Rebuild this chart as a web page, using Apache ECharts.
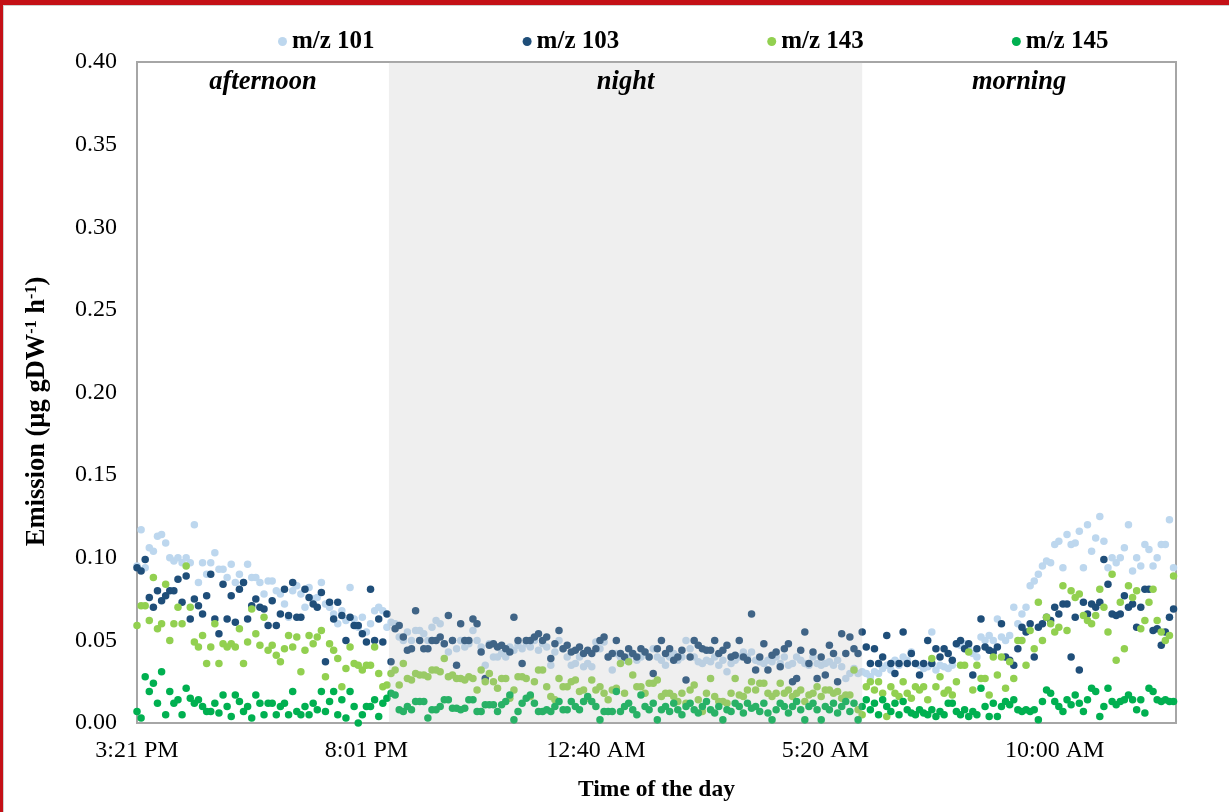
<!DOCTYPE html>
<html>
<head>
<meta charset="utf-8">
<script src="https://cdn.jsdelivr.net/npm/echarts@6/dist/echarts.min.js"></script>
<style>
  html, body { margin: 0; padding: 0; background: #fff; }
  #wrap { position: relative; width: 1229px; height: 812px; overflow: hidden; }
  #chart { position: absolute; left: 0; top: 0; width: 1229px; height: 812px; }
  #frameTop { position: absolute; left: 0; top: 0; width: 1229px; height: 5px; background: #c41016; }
  #frameTopIn { position: absolute; left: 3px; top: 5px; width: 1226px; height: 1px; background: #d0d0d0; }
  #frameLeft { position: absolute; left: 0; top: 0; width: 3px; height: 812px; background: #c41016; }
  #frameLeftIn { position: absolute; left: 3px; top: 5px; width: 1px; height: 807px; background: #d0d0d0; }
</style>
</head>
<body>
<div id="wrap">
  <div id="chart"></div>
  <div id="frameTop"></div><div id="frameTopIn"></div>
  <div id="frameLeft"></div><div id="frameLeftIn"></div>
</div>
<script>
// ---- data ----
const seriesNames = ['m/z 101', 'm/z 103', 'm/z 143', 'm/z 145'];
const tickLabels = ['3:21 PM', '8:01 PM', '12:40 AM', '5:20 AM', '10:00 AM'];
const tickStepMin = 280;          // minutes between labelled ticks
const sampleStepMin = 5;          // minutes between successive measurements
const axisEndMin = 1268;          // end of the time axis (minutes after 3:21 PM)
const periodNames = ['afternoon', 'night', 'morning'];
const periodBounds = [0, 307.5, 885, 1268];   // minutes after 3:21 PM

const mz101 = [
  0.095,0.117,0.094,0.106,0.104,0.113,0.114,0.109,0.100,0.098,
  0.100,0.097,0.100,0.097,0.120,0.085,0.097,0.090,0.097,0.103,
  0.093,0.093,0.088,0.096,0.085,0.090,0.085,0.096,0.088,0.088,
  0.085,0.078,0.086,0.086,0.080,0.078,0.072,0.064,0.080,0.083,
  0.078,0.070,0.082,0.075,0.076,0.085,0.072,0.070,0.066,0.060,
  0.068,0.062,0.082,0.063,0.058,0.064,0.055,0.060,0.068,0.070,
  0.068,0.058,0.061,0.060,0.052,0.050,0.055,0.050,0.056,0.056,
  0.054,0.050,0.058,0.062,0.060,0.048,0.043,0.050,0.045,0.050,
  0.046,0.048,0.056,0.050,0.046,0.035,0.048,0.040,0.040,0.042,
  0.040,0.046,0.044,0.047,0.045,0.048,0.046,0.050,0.044,0.048,
  0.046,0.035,0.043,0.050,0.045,0.040,0.035,0.036,0.040,0.034,
  0.036,0.034,0.049,0.045,0.049,0.040,0.032,0.042,0.040,0.038,
  0.040,0.042,0.038,0.040,0.043,0.040,0.045,0.040,0.038,0.035,
  0.040,0.042,0.038,0.040,0.050,0.045,0.040,0.037,0.036,0.038,
  0.037,0.040,0.035,0.038,0.031,0.036,0.038,0.040,0.043,0.040,
  0.043,0.038,0.037,0.036,0.038,0.037,0.040,0.036,0.040,0.035,
  0.036,0.040,0.038,0.036,0.035,0.040,0.036,0.035,0.036,0.037,
  0.035,0.038,0.034,0.027,0.030,0.033,0.030,0.031,0.030,0.028,
  0.031,0.030,0.033,0.035,0.032,0.038,0.035,0.040,0.038,0.043,
  0.036,0.035,0.033,0.034,0.055,0.032,0.035,0.034,0.033,0.035,
  0.048,0.047,0.048,0.045,0.042,0.040,0.052,0.050,0.053,0.050,
  0.063,0.052,0.050,0.053,0.070,0.060,0.066,0.070,0.083,0.086,
  0.090,0.095,0.098,0.097,0.108,0.110,0.094,0.114,0.108,0.109,
  0.116,0.094,0.120,0.104,0.112,0.125,0.110,0.094,0.100,0.097,
  0.100,0.106,0.120,0.092,0.100,0.095,0.108,0.105,0.095,0.100,
  0.108,0.108,0.123,0.094
];
const mz103 = [
  0.094,0.092,0.099,0.076,0.070,0.080,0.074,0.077,0.080,0.080,
  0.087,0.073,0.089,0.063,0.075,0.071,0.066,0.077,0.090,0.063,
  0.054,0.084,0.063,0.077,0.061,0.081,0.085,0.063,0.071,0.075,
  0.070,0.069,0.059,0.074,0.059,0.066,0.081,0.065,0.085,0.064,
  0.064,0.081,0.076,0.072,0.070,0.079,0.037,0.073,0.063,0.073,
  0.065,0.050,0.064,0.059,0.059,0.054,0.049,0.081,0.050,0.063,
  0.049,0.066,0.037,0.057,0.059,0.052,0.044,0.045,0.068,0.050,
  0.045,0.045,0.050,0.050,0.052,0.048,0.065,0.050,0.035,0.060,
  0.050,0.050,0.063,0.060,0.043,0.027,0.047,0.048,0.046,0.047,
  0.045,0.043,0.064,0.050,0.036,0.050,0.050,0.052,0.054,0.050,
  0.052,0.039,0.048,0.056,0.045,0.047,0.043,0.044,0.046,0.042,
  0.044,0.042,0.045,0.050,0.052,0.040,0.042,0.050,0.042,0.040,
  0.045,0.042,0.040,0.045,0.043,0.040,0.030,0.045,0.050,0.042,
  0.045,0.038,0.040,0.044,0.026,0.040,0.050,0.047,0.045,0.044,
  0.044,0.050,0.042,0.044,0.047,0.040,0.041,0.050,0.040,0.038,
  0.066,0.032,0.040,0.048,0.032,0.041,0.043,0.034,0.045,0.048,
  0.025,0.027,0.044,0.055,0.036,0.043,0.027,0.040,0.029,0.047,
  0.042,0.025,0.054,0.042,0.052,0.045,0.042,0.055,0.046,0.036,
  0.045,0.036,0.040,0.053,0.036,0.030,0.036,0.055,0.036,0.042,
  0.036,0.029,0.036,0.050,0.036,0.045,0.040,0.045,0.042,0.038,
  0.048,0.050,0.045,0.048,0.029,0.045,0.063,0.046,0.044,0.043,
  0.046,0.060,0.040,0.038,0.035,0.045,0.058,0.055,0.060,0.040,
  0.058,0.060,0.064,0.062,0.070,0.066,0.072,0.072,0.040,0.064,
  0.032,0.073,0.066,0.072,0.070,0.073,0.099,0.084,0.066,0.065,
  0.066,0.077,0.070,0.072,0.058,0.070,0.081,0.081,0.056,0.057,
  0.047,0.055,0.064,0.069
];
const mz143 = [
  0.059,0.071,0.071,0.062,0.088,0.057,0.060,0.084,0.050,0.060,
  0.070,0.060,0.095,0.070,0.049,0.046,0.053,0.036,0.046,0.060,
  0.036,0.048,0.046,0.048,0.046,0.057,0.036,0.049,0.069,0.054,
  0.047,0.064,0.044,0.047,0.041,0.037,0.045,0.053,0.046,0.052,
  0.031,0.044,0.053,0.048,0.052,0.056,0.028,0.048,0.044,0.039,
  0.022,0.033,0.046,0.036,0.035,0.032,0.035,0.035,0.046,0.030,
  0.022,0.023,0.030,0.032,0.023,0.036,0.027,0.026,0.030,0.029,
  0.029,0.028,0.032,0.032,0.031,0.039,0.028,0.029,0.027,0.027,
  0.026,0.028,0.027,0.020,0.032,0.025,0.030,0.025,0.021,0.027,
  0.027,0.015,0.020,0.028,0.028,0.027,0.016,0.025,0.032,0.032,
  0.022,0.016,0.014,0.027,0.022,0.022,0.025,0.026,0.019,0.020,
  0.015,0.026,0.020,0.022,0.018,0.014,0.020,0.021,0.036,0.018,
  0.037,0.029,0.022,0.022,0.018,0.024,0.024,0.026,0.016,0.018,
  0.018,0.016,0.013,0.018,0.012,0.020,0.023,0.014,0.007,0.018,
  0.027,0.016,0.013,0.013,0.012,0.018,0.027,0.017,0.016,0.020,
  0.025,0.020,0.024,0.024,0.018,0.016,0.018,0.024,0.018,0.020,
  0.016,0.018,0.020,0.013,0.017,0.018,0.022,0.016,0.020,0.020,
  0.018,0.019,0.015,0.017,0.017,0.032,0.008,0.005,0.022,0.025,
  0.020,0.025,0.018,0.004,0.022,0.018,0.016,0.025,0.018,0.015,
  0.022,0.020,0.022,0.014,0.039,0.022,0.028,0.018,0.020,0.017,
  0.025,0.035,0.035,0.043,0.020,0.035,0.027,0.027,0.017,0.040,
  0.029,0.040,0.021,0.037,0.027,0.050,0.050,0.035,0.056,0.045,
  0.073,0.050,0.064,0.060,0.055,0.058,0.083,0.056,0.080,0.076,
  0.078,0.065,0.062,0.060,0.065,0.081,0.070,0.055,0.090,0.038,
  0.073,0.045,0.083,0.076,0.080,0.057,0.062,0.073,0.081,0.062,
  0.055,0.050,0.053,0.089
];
const mz145 = [
  0.007,0.003,0.028,0.019,0.024,0.012,0.031,0.005,0.019,0.012,
  0.014,0.005,0.021,0.015,0.012,0.014,0.010,0.007,0.007,0.012,
  0.006,0.017,0.010,0.004,0.017,0.013,0.007,0.010,0.003,0.017,
  0.012,0.005,0.012,0.012,0.005,0.010,0.012,0.005,0.019,0.007,
  0.005,0.010,0.005,0.012,0.008,0.019,0.007,0.013,0.019,0.005,
  0.014,0.003,0.019,0.010,0.000,0.005,0.010,0.010,0.014,0.004,
  0.012,0.015,0.018,0.017,0.008,0.007,0.010,0.008,0.013,0.013,
  0.013,0.003,0.008,0.008,0.010,0.014,0.014,0.009,0.009,0.008,
  0.009,0.014,0.014,0.007,0.007,0.011,0.011,0.011,0.007,0.011,
  0.013,0.017,0.002,0.007,0.012,0.015,0.017,0.012,0.007,0.007,
  0.008,0.007,0.010,0.013,0.008,0.008,0.013,0.010,0.008,0.013,
  0.016,0.013,0.010,0.002,0.007,0.007,0.007,0.019,0.007,0.010,
  0.012,0.008,0.005,0.017,0.010,0.008,0.012,0.002,0.008,0.010,
  0.007,0.012,0.008,0.005,0.010,0.012,0.008,0.006,0.010,0.013,
  0.008,0.006,0.010,0.002,0.008,0.007,0.012,0.010,0.006,0.012,
  0.009,0.010,0.007,0.012,0.006,0.002,0.008,0.012,0.010,0.006,
  0.010,0.013,0.008,0.002,0.010,0.012,0.008,0.002,0.010,0.008,
  0.012,0.006,0.010,0.013,0.007,0.012,0.002,0.010,0.014,0.008,
  0.012,0.005,0.014,0.010,0.007,0.012,0.005,0.013,0.008,0.006,
  0.005,0.008,0.006,0.005,0.008,0.004,0.007,0.005,0.012,0.012,
  0.007,0.005,0.008,0.004,0.007,0.005,0.021,0.010,0.004,0.012,
  0.004,0.010,0.013,0.011,0.014,0.008,0.007,0.008,0.007,0.008,
  0.002,0.013,0.020,0.018,0.013,0.010,0.007,0.014,0.011,0.017,
  0.012,0.007,0.014,0.021,0.019,0.004,0.010,0.021,0.013,0.011,
  0.013,0.014,0.017,0.014,0.008,0.014,0.006,0.021,0.019,0.014,
  0.013,0.014,0.013,0.013
];
const seriesColors = ['#bdd7ee', '#1f4e79', '#92d050', '#00b050'];

// ---- build chart ----
const valueSets = [mz101, mz103, mz143, mz145];
const FONT = 'Liberation Serif';

function pairs(values) {
  return values.map((v, i) => [i * sampleStepMin, v]);
}

const scatterSeries = valueSets.map((vals, k) => ({
  name: seriesNames[k],
  type: 'scatter',
  data: pairs(vals),
  symbol: 'circle',
  symbolSize: 7.5,
  itemStyle: { color: seriesColors[k], opacity: 1 },
  z: 2,
  animation: false
}));

const shade = 'rgba(180,180,180,0.22)';
const areaData = periodNames.map((nm, k) => [
  { xAxis: periodBounds[k], name: nm,
    itemStyle: { color: nm === 'night' ? shade : 'rgba(0,0,0,0)' } },
  { xAxis: periodBounds[k + 1] }
]);

const periodSeries = {
  name: 'periods',
  type: 'scatter',
  data: [],
  z: 10,
  silent: true,
  animation: false,
  markArea: {
    z: 10,
    silent: true,
    animation: false,
    label: {
      show: true,
      position: 'insideTop',
      distance: 7,
      fontFamily: FONT,
      fontSize: 26.5,
      fontStyle: 'italic',
      fontWeight: 'bold',
      color: '#000'
    },
    data: areaData
  }
};

const chart = echarts.init(document.getElementById('chart'), null, { renderer: 'canvas' });
chart.setOption({
  animation: false,
  textStyle: { fontFamily: FONT, color: '#000' },
  legend: {
    data: seriesNames,
    left: 273,
    top: 24,
    icon: 'circle',
    itemWidth: 9,
    itemHeight: 9,
    itemGap: 148,
    textStyle: { fontFamily: FONT, fontSize: 25, fontWeight: 'bold', color: '#000' }
  },
  grid: {
    left: 137, right: 53, top: 62, bottom: 89,
    show: true, borderColor: '#a6a6a6', borderWidth: 2,
    backgroundColor: 'rgba(0,0,0,0)'
  },
  xAxis: {
    type: 'value',
    min: 0,
    max: axisEndMin,
    interval: tickStepMin,
    axisLine: { show: false },
    axisTick: { show: false },
    splitLine: { show: false },
    axisLabel: {
      fontFamily: FONT, fontSize: 24, color: '#000', margin: 16,
      showMaxLabel: false,
      formatter: v => {
        const k = Math.round(v / tickStepMin);
        return (Math.abs(v - k * tickStepMin) < 1e-6 && tickLabels[k]) ? tickLabels[k] : '';
      }
    },
    name: 'Time of the day',
    nameLocation: 'middle',
    nameGap: 55,
    nameTextStyle: { fontFamily: FONT, fontSize: 23.5, fontWeight: 'bold', color: '#000' }
  },
  yAxis: {
    type: 'value',
    min: 0,
    max: 0.4,
    interval: 0.05,
    axisLine: { show: false },
    axisTick: { show: false },
    splitLine: { show: false },
    axisLabel: {
      fontFamily: FONT, fontSize: 24, color: '#000', margin: 20,
      formatter: v => v.toFixed(2)
    },
    name: '{a|Emission (µg gDW}{s|-1}{a| h}{s|-1}{a|)}',
    nameLocation: 'middle',
    nameRotate: 90,
    nameGap: 86,
    nameTextStyle: {
      padding: [0, 38, 0, 0],
      rich: {
        a: { fontFamily: FONT, fontSize: 26.5, fontWeight: 'bold', color: '#000' },
        s: { fontFamily: FONT, fontSize: 16, fontWeight: 'bold', color: '#000', padding: [0, 0, 11, 0] }
      }
    }
  },
  series: [...scatterSeries, periodSeries]
});
</script>
</body>
</html>
